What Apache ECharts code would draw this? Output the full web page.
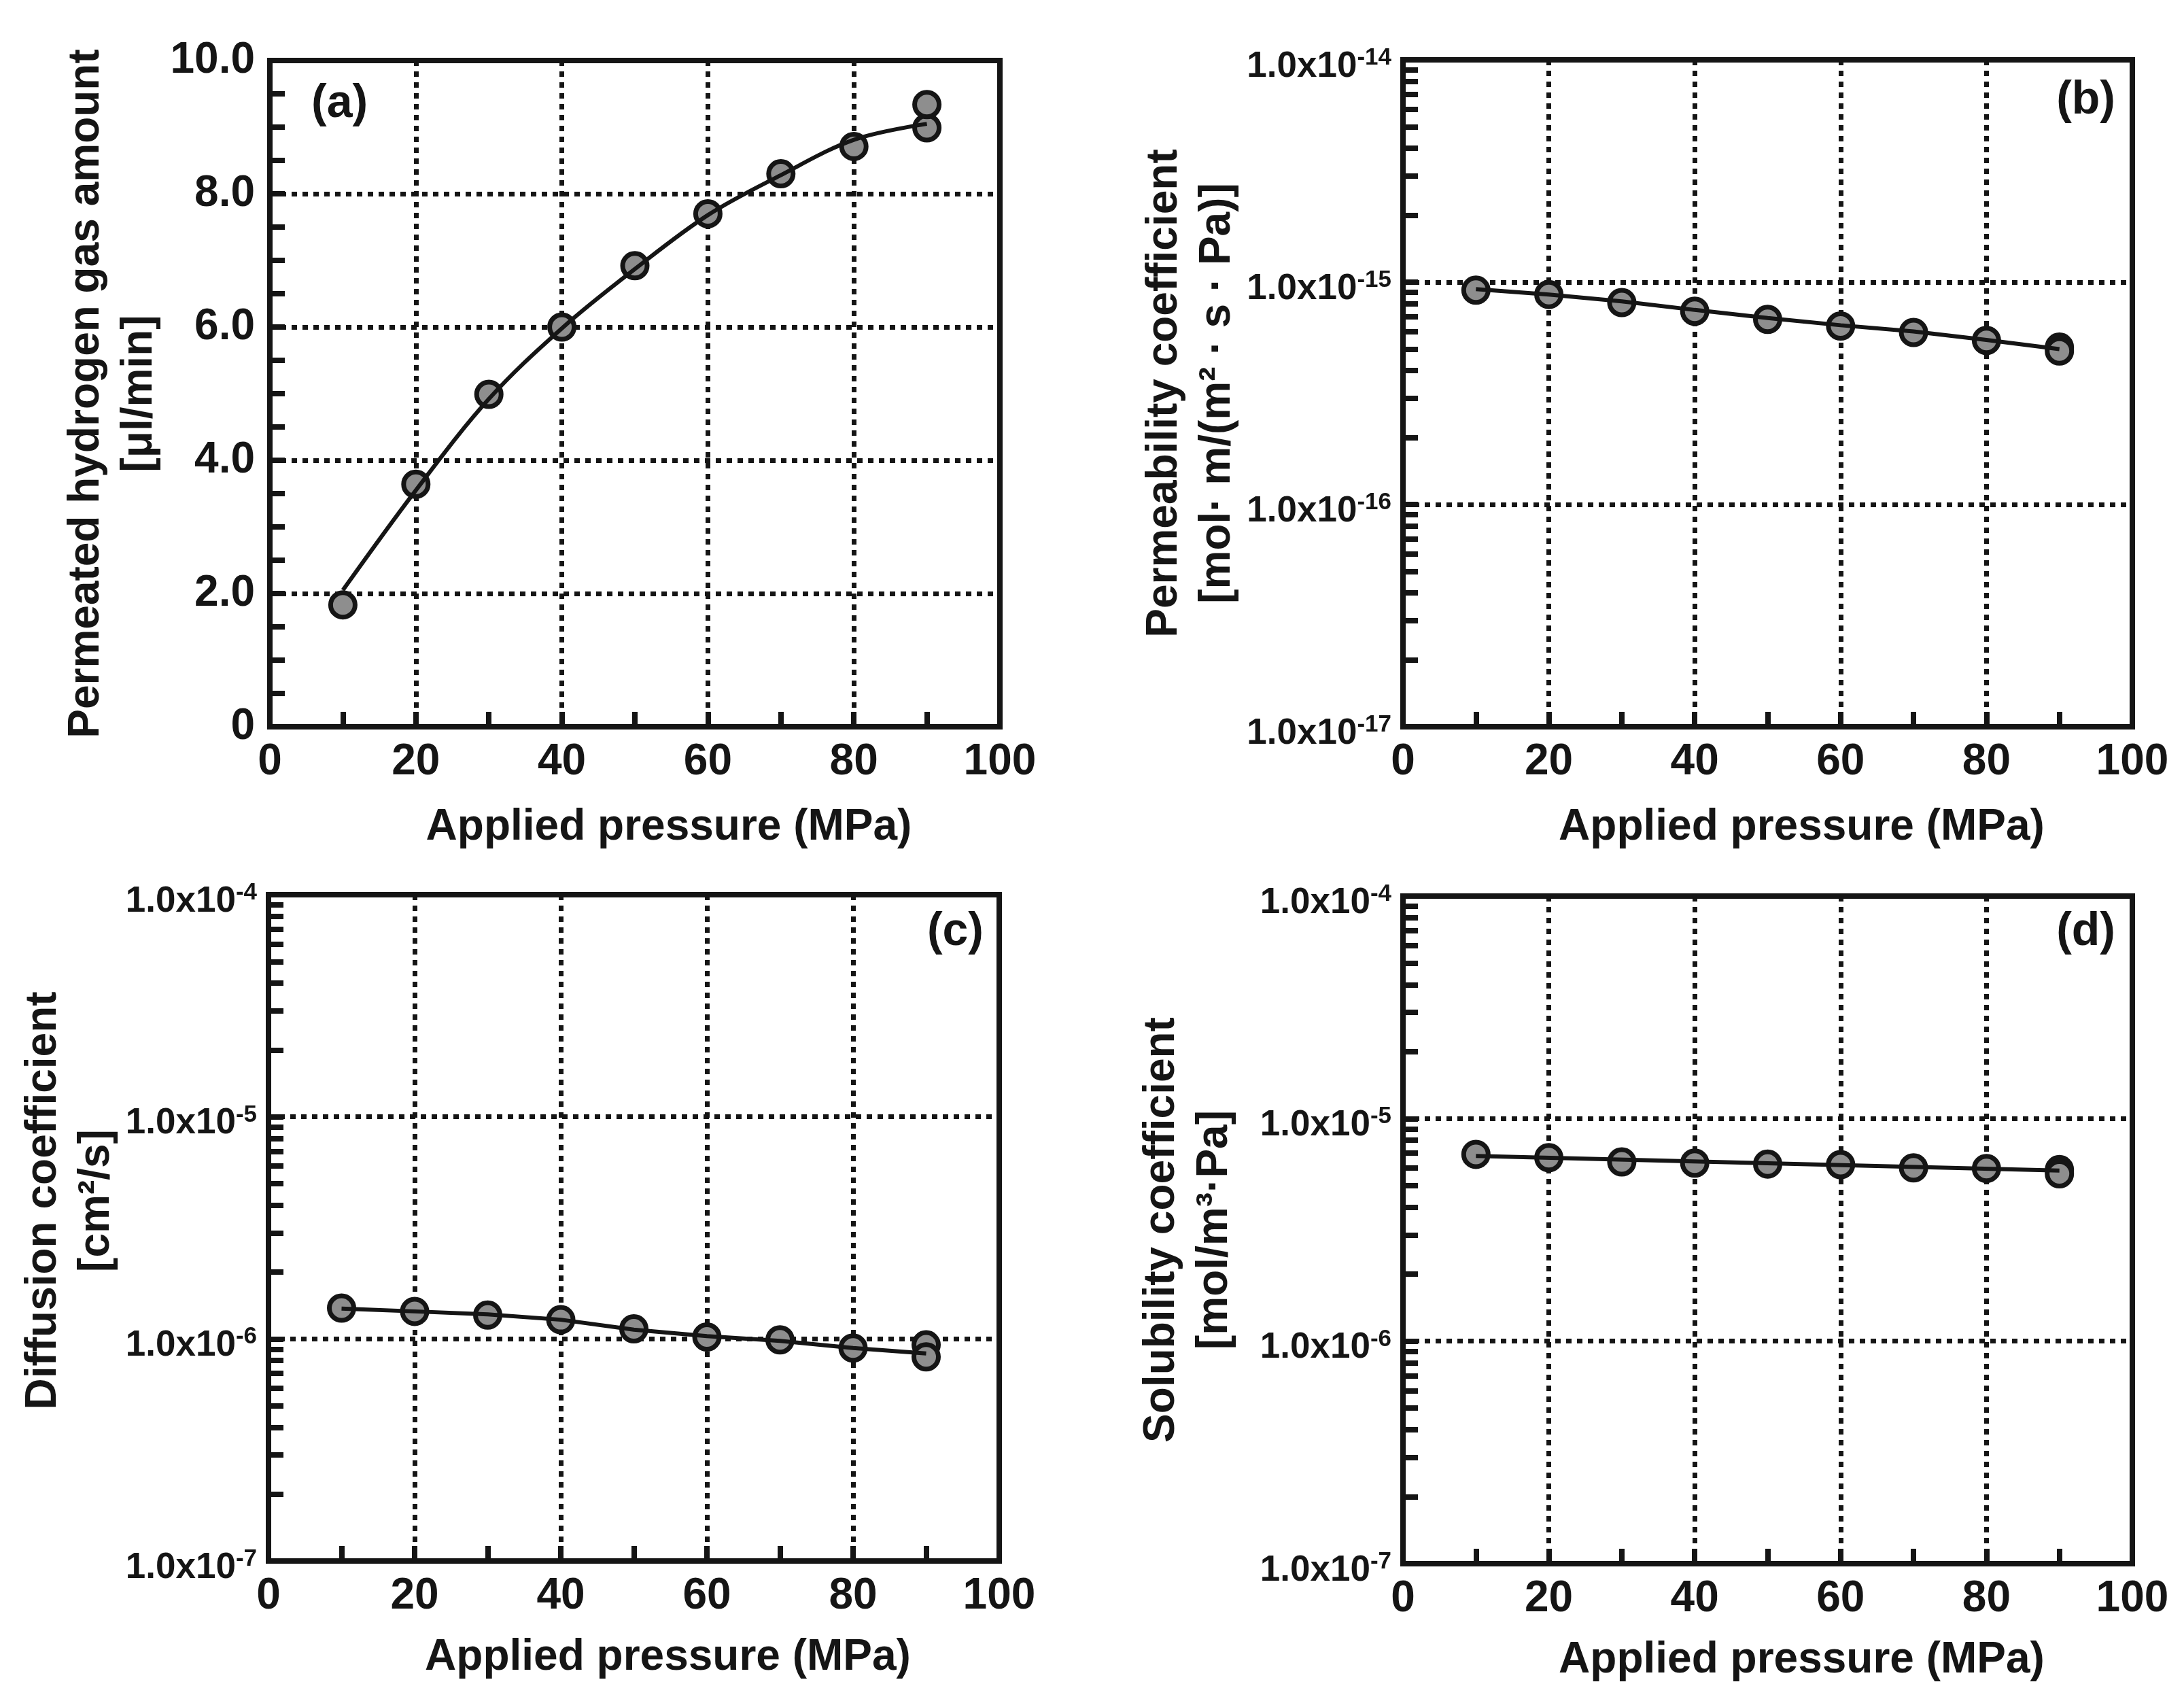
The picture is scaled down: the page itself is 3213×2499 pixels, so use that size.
<!DOCTYPE html>
<html>
<head>
<meta charset="utf-8">
<script src="https://cdn.jsdelivr.net/npm/echarts@6/dist/echarts.min.js"></script>
<style>
html, body { margin: 0; padding: 0; background: #fff; }
#chart { width: 3213px; height: 2499px; }
</style>
</head>
<body>
<div id="chart"></div>
<script>
// applied pressure (MPa), 90 MPa was measured twice
const pressure = [10, 20, 30, 40, 50, 60, 70, 80, 90, 90];
const fitPressure = [10, 20, 30, 40, 50, 60, 70, 80, 90];

// (a) permeated hydrogen gas amount [μl/min]
const hydrogenAmount = [1.83, 3.64, 4.99, 6.00, 6.92, 7.70, 8.30, 8.71, 8.99, 9.34];
const hydrogenFit = [2.05, 3.55, 4.92, 5.98, 6.87, 7.68, 8.28, 8.81, 9.05];

// (b) permeability coefficient [mol·m/(m²·s·Pa)]
const permeability = [0.92e-15, 0.88e-15, 0.81e-15, 0.74e-15, 0.68e-15, 0.635e-15, 0.594e-15, 0.547e-15, 0.51e-15, 0.49e-15];
const permeabilityFit = [0.93e-15, 0.88e-15, 0.82e-15, 0.75e-15, 0.69e-15, 0.64e-15, 0.60e-15, 0.55e-15, 0.50e-15];

// (c) diffusion coefficient [cm²/s]
const diffusion = [1.377e-6, 1.33e-6, 1.28e-6, 1.22e-6, 1.11e-6, 1.02e-6, 0.99e-6, 0.91e-6, 0.94e-6, 0.83e-6];
const diffusionFit = [1.37e-6, 1.33e-6, 1.29e-6, 1.22e-6, 1.10e-6, 1.03e-6, 0.98e-6, 0.91e-6, 0.86e-6];

// (d) solubility coefficient [mol/m³·Pa]
const solubility = [6.91e-6, 6.68e-6, 6.39e-6, 6.31e-6, 6.25e-6, 6.21e-6, 6.01e-6, 5.97e-6, 5.90e-6, 5.65e-6];
const solubilityFitPressure = [10, 90];
const solubilityFit = [6.79e-6, 5.84e-6];

// log axes: exponent of the lowest decade of each panel, minor tick steps
const logBaseExp = [null, -17, -7, -7];
const logDecades = 3;
const logMinorSteps = [2, 3, 4, 5, 6, 7, 8, 9];

const FONT = '"Liberation Sans", Arial, Helvetica, sans-serif';
const INK = '#151515';

const grids = [
    {left: 397, top: 89, width: 1074, height: 980},
    {left: 2064, top: 88, width: 1073, height: 981},
    {left: 395, top: 1316, width: 1075, height: 980},
    {left: 2064, top: 1318, width: 1073, height: 982}
].map(g => Object.assign(g, {show: true, borderColor: INK, borderWidth: 8}));

function dotted() {
    return {color: INK, width: 7, type: [8, 8]};
}
function tick(extra) {
    return Object.assign({show: true, inside: true, length: 22, lineStyle: {color: INK, width: 8}}, extra);
}

function pairs(xs, ys, scale) {
    return ys.map((v, i) => [xs[i], v / scale]);
}

function minorTickValues() {
    const vals = [];
    for (let d = 0; d < logDecades; d++) {
        logMinorSteps.forEach(s => vals.push(s * Math.pow(10, d)));
    }
    return vals;
}

const xNameGap = [109, 109, 103, 103];
const xAxes = grids.map((g, i) => ({
    type: 'value',
    gridIndex: i,
    min: 0,
    max: 100,
    interval: 20,
    name: 'Applied pressure (MPa)',
    nameLocation: 'middle',
    nameGap: xNameGap[i],
    nameTextStyle: {fontFamily: FONT, fontWeight: 'bold', fontSize: 64, lineHeight: 78, color: INK, padding: [0, 0, 0, 100]},
    axisLine: {show: true, lineStyle: {color: INK, width: 8}},
    axisTick: tick(),
    minorTick: tick({splitNumber: 2}),
    axisLabel: {fontFamily: FONT, fontWeight: 'bold', fontSize: 64, color: INK, margin: 20},
    splitLine: {show: true, lineStyle: dotted()}
}));

const yNames = [
    'Permeated hydrogen gas amount\n[μl/min]',
    'Permeability coefficient\n[mol· m/(m² · s · Pa)]',
    'Diffusion coefficient\n[cm²/s]',
    'Solubility coefficient\n[mol/m³·Pa]'
];
const yNameGap = [153, 230, 206, 238];
const yNamePad = [[0, 0, 0, 0], [0, 0, 0, 0], [0, 0, 0, 80], [0, 0, 0, 0]];

const yAxes = grids.map((g, i) => {
    const axis = {
        gridIndex: i,
        position: 'left',
        name: yNames[i],
        nameLocation: 'middle',
        nameRotate: 90,
        nameGap: yNameGap[i],
        nameTextStyle: {fontFamily: FONT, fontWeight: 'bold', fontSize: 64, lineHeight: 78, color: INK, padding: yNamePad[i]},
        axisLine: {show: true, lineStyle: {color: INK, width: 8}},
        axisTick: tick(),
        splitLine: {show: true, lineStyle: dotted()}
    };
    if (i === 0) {
        Object.assign(axis, {
            type: 'value', min: 0, max: 10, interval: 2,
            minorTick: tick({splitNumber: 4}),
            axisLabel: {
                fontFamily: FONT, fontWeight: 'bold', fontSize: 64, color: INK, margin: 22,
                formatter: v => v === 0 ? '0' : v.toFixed(1)
            }
        });
    } else {
        Object.assign(axis, {
            type: 'log', logBase: 10, min: 1, max: Math.pow(10, logDecades), splitNumber: logDecades,
            axisLabel: {
                margin: 17,
                padding: [20, 0, 0, 0],
                formatter: v => '{b|1.0x10}{s|' + (Math.round(Math.log10(v)) + logBaseExp[i]) + '}',
                rich: {
                    b: {fontFamily: FONT, fontWeight: 'bold', fontSize: 53, color: INK, lineHeight: 60},
                    s: {fontFamily: FONT, fontWeight: 'bold', fontSize: 35, color: INK, lineHeight: 35, verticalAlign: 'top'}
                }
            }
        });
    }
    return axis;
});

// extra log axes that carry only the 2..9 minor ticks
[1, 2, 3].forEach(i => {
    yAxes.push({
        type: 'log', logBase: 10, gridIndex: i, position: 'left', offset: 0,
        min: 1, max: Math.pow(10, logDecades),
        axisLine: {show: false},
        axisLabel: {show: false},
        splitLine: {show: false},
        axisTick: tick({customValues: minorTickValues()})
    });
});

function markerSeries(axisIndex, data) {
    return {
        type: 'scatter', symbol: 'circle', symbolSize: 36, z: 3,
        xAxisIndex: axisIndex, yAxisIndex: axisIndex, data: data,
        itemStyle: {color: '#8e8e8e', borderColor: INK, borderWidth: 7, opacity: 1}
    };
}
function fitSeries(axisIndex, data, smooth) {
    return {
        type: 'line', symbol: 'none', showSymbol: false, z: 4, smooth: smooth || false,
        xAxisIndex: axisIndex, yAxisIndex: axisIndex, data: data,
        lineStyle: {color: INK, width: 6}
    };
}

const series = [
    markerSeries(0, pairs(pressure, hydrogenAmount, 1)),
    fitSeries(0, pairs(fitPressure, hydrogenFit, 1), 0.35),
    markerSeries(1, pairs(pressure, permeability, 1e-17)),
    fitSeries(1, pairs(fitPressure, permeabilityFit, 1e-17)),
    markerSeries(2, pairs(pressure, diffusion, 1e-7)),
    fitSeries(2, pairs(fitPressure, diffusionFit, 1e-7)),
    markerSeries(3, pairs(pressure, solubility, 1e-7)),
    fitSeries(3, pairs(solubilityFitPressure, solubilityFit, 1e-7))
];

// panel tags
const tags = [
    {text: '(a)', x: 458, y: 153, align: 'left'},
    {text: '(b)', x: 3112, y: 148, align: 'right'},
    {text: '(c)', x: 1447, y: 1371, align: 'right'},
    {text: '(d)', x: 3112, y: 1371, align: 'right'}
];

const chart = echarts.init(document.getElementById('chart'));
chart.setOption({
    animation: false,
    backgroundColor: '#fff',
    grid: grids,
    xAxis: xAxes,
    yAxis: yAxes,
    series: series,
    graphic: tags.map(t => ({
        type: 'text', z: 10,
        x: t.x, y: t.y,
        style: {text: t.text, fill: INK, fontFamily: FONT, fontWeight: 'bold', fontSize: 68, align: t.align, verticalAlign: 'middle'}
    }))
});
</script>
</body>
</html>
